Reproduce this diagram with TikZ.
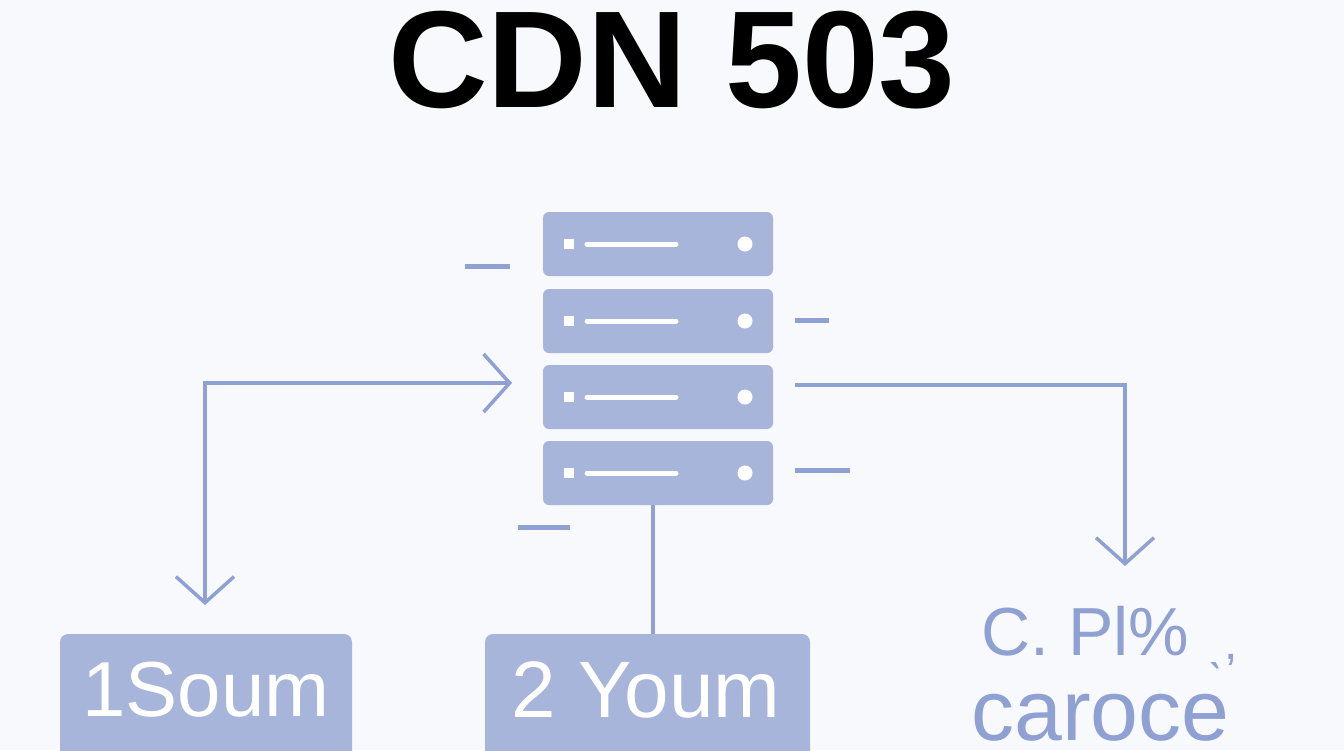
\documentclass[tikz,border=0pt]{standalone}
\usepackage{fontspec}
\setmainfont{Liberation Sans}
\usetikzlibrary{arrows.meta}
\definecolor{srv}{HTML}{A8B5DB}
\definecolor{ln}{HTML}{8FA0D2}
\definecolor{bg}{HTML}{F8F9FC}
\begin{document}
\begin{tikzpicture}[x=1pt,y=-1pt,
  unit/.style={fill=srv,rounded corners=6pt},
  tip/.tip={Straight Barb[length=26pt,width=58pt,line width=3.5pt]},
  conn/.style={draw=ln,line width=3.5pt,-tip},
  mydash/.style={draw=ln,line width=5pt},
  lbl/.style={fill=srv,rounded corners=8pt}]
\fill[bg] (0,0) rectangle (1344,750);
\useasboundingbox (0,0) rectangle (1344,750);
\node[font=\bfseries\fontsize{138}{140}\selectfont] (title) at (672,60) {CDN 503};
\foreach \y/\n in {212/u1,289/u2,365/u3,441/u4}{
  \fill[unit] (543,\y) rectangle (773,\y+64);
  \coordinate (\n) at (658,\y+32);
  \fill[white] (564,\y+27) rectangle (574,\y+37);
  \draw[white,line width=5pt,line cap=round] (587,\y+32) -- (676,\y+32);
  \fill[white] (745,\y+32) circle (7.5);
}
\coordinate (l3) at (512,383);
\coordinate (r3) at (795,385);
\coordinate (bot) at (653,505);
\draw[mydash] (465,266) -- (510,266);
\draw[mydash] (795,320) -- (829,320);
\draw[mydash] (795,470) -- (850,470);
\draw[mydash] (518,527) -- (570,527);
\fill[lbl] (60,634) rectangle (352,760);
\node[text=white,font=\fontsize{78}{80}\selectfont] (b1) at (206,690) {1Soum};
\fill[lbl] (485,634) rectangle (810,760);
\node[text=white,font=\fontsize{80}{80}\selectfont] (b2) at (646,690) {2 Youm};
\coordinate (b2t) at (653,634);
\node[text=ln,font=\fontsize{68}{70}\selectfont,anchor=west] (t1) at (978,638) {C. Pl\% \raisebox{-4pt}{\fontsize{48}{48}\selectfont ˎ,}};
\node[text=ln,font=\fontsize{86}{80}\selectfont,anchor=west] (t2) at (968,718) {caroce};
\coordinate (ld) at (205,605);
\coordinate (rd) at (1125,566);
\draw[conn,tip-tip] (ld) -- (205,383) -- (l3);
\draw[conn] (r3) -- (1125,385) -- (rd);
\draw[draw=ln,line width=3.5pt] (bot) -- (b2t);
\end{tikzpicture}
\end{document}
